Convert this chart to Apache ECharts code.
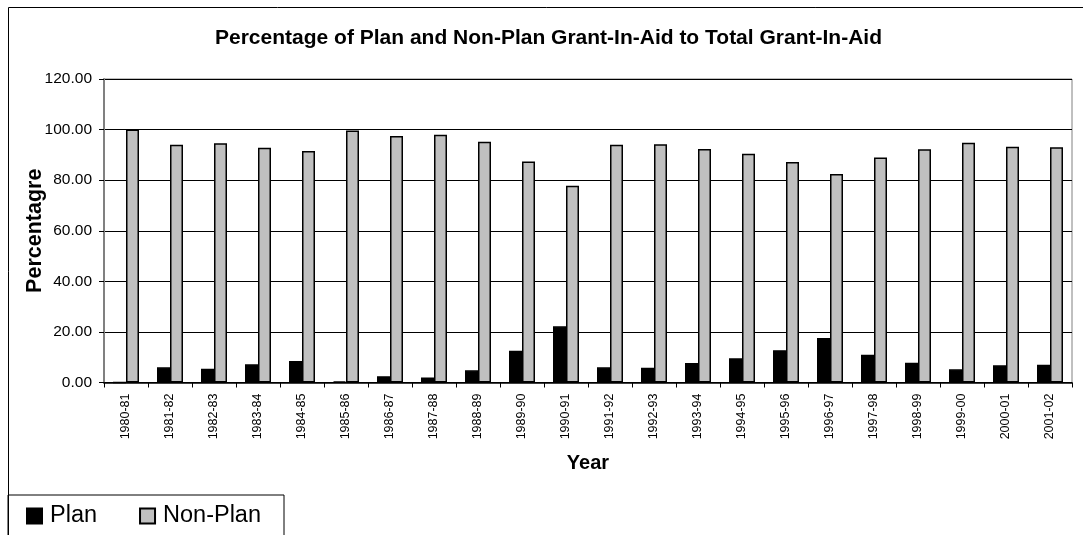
<!DOCTYPE html>
<html>
<head>
<meta charset="utf-8">
<script src="https://cdn.jsdelivr.net/npm/echarts@6/dist/echarts.min.js"></script>
<style>
  html, body { margin: 0; padding: 0; background: #fff; }
  #chart { width: 1083px; height: 535px; }
</style>
</head>
<body>
<div id="chart"></div>
<script>
// Financial years
const years = ['1980-81','1981-82','1982-83','1983-84','1984-85','1985-86','1986-87','1987-88',
  '1988-89','1989-90','1990-91','1991-92','1992-93','1993-94','1994-95','1995-96','1996-97',
  '1997-98','1998-99','1999-00','2000-01','2001-02'];

// Share of Plan grant-in-aid (%)
const planShare = [0.0, 6.0, 5.4, 7.2, 8.5, 0.4, 2.5, 2.0, 4.8, 12.6, 22.2, 6.0, 5.8, 7.7,
  9.6, 12.8, 17.6, 11.0, 7.8, 5.2, 6.8, 7.0];

// Share of Non-Plan grant-in-aid (%)
const nonPlanShare = [100.0, 94.0, 94.6, 92.8, 91.5, 99.6, 97.5, 98.0, 95.2, 87.4, 77.8, 94.0,
  94.2, 92.3, 90.4, 87.2, 82.4, 89.0, 92.2, 94.8, 93.2, 93.0];

// Value axis ticks
const yTicks = { min: 0, max: 120, step: 20 };

const FONT = '"Liberation Sans", Arial, sans-serif';

const chart = echarts.init(document.getElementById('chart'), null, { renderer: 'canvas' });

chart.setOption({
  backgroundColor: '#fff',
  animation: false,
  title: {
    text: 'Percentage of Plan and Non-Plan Grant-In-Aid to Total Grant-In-Aid',
    left: 215,
    top: 28,
    padding: 0,
    textStyle: { fontFamily: FONT, fontSize: 21, fontWeight: 'bold', color: '#000' }
  },
  legend: {
    left: 8,
    top: 495,
    orient: 'horizontal',
    padding: [9, 23, 40, 18],
    borderColor: '#000',
    borderWidth: 1,
    itemWidth: 15,
    itemHeight: 15,
    itemGap: 42,
    icon: 'rect',
    textStyle: { fontFamily: FONT, fontSize: 23.5, color: '#000', lineHeight: 24, padding: [0, 0, 0, 3] },
    data: ['Plan', 'Non-Plan']
  },
  graphic: [{
    type: 'rect',
    shape: { x: 8.5, y: 7.5, width: 1200, height: 700 },
    style: { fill: 'none', stroke: '#000', lineWidth: 1 },
    silent: true,
    z: -1
  }],
  grid: {
    left: 104,
    top: 79,
    right: 11,
    bottom: 152.5,
    show: true,
    borderColor: '#808080',
    borderWidth: 1
  },
  xAxis: {
    type: 'category',
    data: years,
    name: 'Year',
    nameLocation: 'middle',
    nameGap: 71,
    nameMoveOverlap: false,
    nameTextStyle: { fontFamily: FONT, fontSize: 20, fontWeight: 'bold', color: '#000' },
    axisLine: { lineStyle: { color: '#000', width: 1.5 } },
    axisTick: { show: true, length: 5, lineStyle: { color: '#000' } },
    axisLabel: { rotate: 90, margin: 11, fontFamily: FONT, fontSize: 12.5, color: '#000', interval: 0 },
    splitLine: { show: false }
  },
  yAxis: {
    type: 'value',
    min: yTicks.min,
    max: yTicks.max,
    interval: yTicks.step,
    name: 'Percentagre',
    nameLocation: 'middle',
    nameGap: 58,
    nameMoveOverlap: false,
    nameTextStyle: { fontFamily: FONT, fontSize: 21.5, fontWeight: 'bold', color: '#000' },
    axisLine: { show: true, lineStyle: { color: '#808080', width: 2 } },
    axisTick: { show: true, length: 5, lineStyle: { color: '#000' } },
    axisLabel: { margin: 12, fontFamily: FONT, fontSize: 15.5, color: '#000',
      formatter: v => v.toFixed(2) },
    splitLine: { show: true, lineStyle: { color: '#000', width: 1 } }
  },
  series: [
    {
      name: 'Plan',
      type: 'bar',
      data: planShare,
      barWidth: 13,
      barGap: '0%',
      itemStyle: { color: '#000', borderColor: '#000', borderWidth: 1.5 }
    },
    {
      name: 'Non-Plan',
      type: 'bar',
      data: nonPlanShare,
      barWidth: 13,
      itemStyle: { color: '#c0c0c0', borderColor: '#000', borderWidth: 1.5 }
    }
  ]
});
</script>
</body>
</html>
